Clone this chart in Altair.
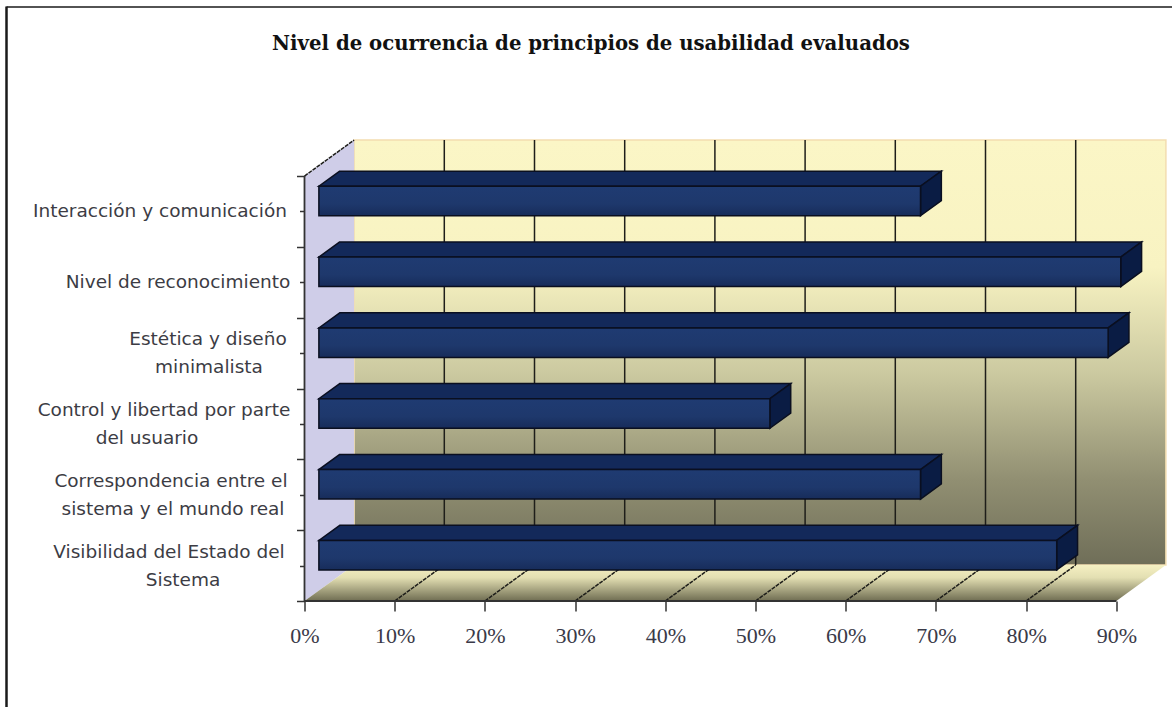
import altair as alt
import pandas as pd

# Categories from the top of the chart to the bottom, with share of occurrence in percent
categories = [
    "Interacción y comunicación",
    "Nivel de reconocimiento",
    "Estética y diseño minimalista",
    "Control y libertad por parte del usuario",
    "Correspondencia entre el sistema y el mundo real",
    "Visibilidad del Estado del Sistema",
]
values = [66.7, 88.9, 87.5, 50.0, 66.7, 81.8]
pct_ticks = [0, 10, 20, 30, 40, 50, 60, 70, 80, 90]

label_lines = [
    ["Interacción y comunicación"],
    ["Nivel de reconocimiento"],
    ["Estética y diseño", "minimalista"],
    ["Control y libertad por parte", "del usuario"],
    ["Correspondencia entre el", "sistema y el mundo real"],
    ["Visibilidad del Estado del", "Sistema"],
]
label_centres = [[160], [178], [208, 209], [164, 147], [171, 173], [169, 183]]

TITLE = "Nivel de ocurrencia de principios de usabilidad evaluados"

# Layout of the oblique projection
LEFT, TOP, PLOT_W, PLOT_H = 304.5, 139, 864, 462
PX_PER_PCT = 9.02
PX_PER_SLOT = 70.83
DEPTH_X = 49.6 / PX_PER_PCT
DEPTH_Y = 36.0 / PX_PER_SLOT
N = len(categories)
BAR_START, BAR_END = 0.29, 0.71
BAR_H = 29.5 / PX_PER_SLOT

xs = alt.Scale(domain=[0, PLOT_W / PX_PER_PCT], range=[0, PLOT_W], nice=False, zero=False)
ys = alt.Scale(domain=[0, PLOT_H / PX_PER_SLOT], range=[PLOT_H, 0], nice=False, zero=False)

# Axis frame: tick marks and percentage labels
x_axis = alt.Axis(
    values=pct_ticks, labelExpr="datum.value + '%'", domain=False, grid=False,
    tickColor="#333333", tickWidth=1.5, tickSize=10, labelPadding=14,
    labelFont="Liberation Serif", labelFontSize=22, labelColor="#3A3A48",
    labelOverlap=False, labelFlush=False,
)
y_axis = alt.Axis(
    values=[i / 2 for i in range(2 * N + 1)], labels=False, domain=False, grid=False,
    tickColor="#333333", tickWidth=1.5,
    tickSize=alt.expr("datum.value % 1 === 0 ? 8 : 5"),
)


def X(f):
    return alt.X(f, type="quantitative", scale=xs, axis=x_axis, title=None)


def Y(f):
    return alt.Y(f, type="quantitative", scale=ys, axis=y_axis, title=None)


def gradient(stops):
    return alt.Gradient(
        gradient="linear", x1=0, y1=0, x2=0, y2=1,
        stops=[alt.GradientStop(offset=o, color=c) for o, c in stops],
    )


top_rows, side_rows, front_rows = [], [], []
for i, (name, v) in enumerate(zip(categories, values)):
    slot = N - 1 - i
    yc = slot + 0.5 + BAR_START * DEPTH_Y
    yb, yt = yc - BAR_H / 2, yc + BAR_H / 2
    xl = BAR_START * DEPTH_X
    xr = xl + v
    d = (BAR_END - BAR_START) * DEPTH_X
    dy = (BAR_END - BAR_START) * DEPTH_Y
    front_rows.append(dict(name=name, x=xl, x2=xr, y=yb, y2=yt))
    top_rows += [
        dict(name=name, x=xl, x2=xr, y=yt),
        dict(name=name, x=xl + d, x2=xr + d, y=yt + dy),
    ]
    side_rows += [
        dict(name=name, x=xr, y=yb, y2=yt),
        dict(name=name, x=xr + d, y=yb + dy, y2=yt + dy),
    ]
front_df, top_df, side_df = map(pd.DataFrame, (front_rows, top_rows, side_rows))

axis_end = pct_ticks[-1]

# Back wall, with its vertical gridlines
wall = alt.Chart(pd.DataFrame([dict(x=DEPTH_X, x2=axis_end + DEPTH_X, y=DEPTH_Y, y2=N + DEPTH_Y)])).mark_rect(
    color=gradient([(0, "#FBF6C6"), (0.3, "#F8F3C2"), (0.55, "#CBC9A0"), (0.8, "#918F72"), (1, "#6F6E58")]),
    stroke="#F3DDB0", strokeWidth=1.5,
).encode(x=X("x"), x2="x2", y=Y("y"), y2="y2")

grid_df = pd.DataFrame({"x": [t + DEPTH_X for t in pct_ticks[1:-1]], "y": DEPTH_Y, "y2": N + DEPTH_Y})
grid = alt.Chart(grid_df).mark_rule(color="#1E1E1A", strokeWidth=1.5).encode(x=X("x"), y=Y("y"), y2="y2")

# Side wall on the left
side_wall = alt.Chart(pd.DataFrame([
    dict(x=0, y=0, y2=N),
    dict(x=DEPTH_X, y=DEPTH_Y, y2=N + DEPTH_Y),
])).mark_area(orient="vertical", color="#CFCDE8").encode(x=X("x"), y=Y("y"), y2="y2")

# Floor
floor = alt.Chart(pd.DataFrame([
    dict(x=0, x2=axis_end, y=0),
    dict(x=DEPTH_X, x2=axis_end + DEPTH_X, y=DEPTH_Y),
])).mark_area(
    orient="horizontal",
    color=gradient([(0, "#F5F0C2"), (0.35, "#E3DFB2"), (1, "#6F6D52")]),
).encode(x=X("x"), x2="x2", y=Y("y"))

# Diagonal lines on the floor and at the top of the side wall
diag_rows = []
for t in pct_ticks[1:-1]:
    diag_rows += [dict(k=t, x=t, y=0), dict(k=t, x=t + DEPTH_X, y=DEPTH_Y)]
diag_rows += [dict(k=-1, x=0, y=N), dict(k=-1, x=DEPTH_X, y=N + DEPTH_Y)]
diagonals = alt.Chart(pd.DataFrame(diag_rows)).mark_line(
    color="#1E1E1A", strokeWidth=1.5, strokeDash=[4, 1]
).encode(x=X("x"), y=Y("y"), detail="k:N")

axis_x_line = alt.Chart(pd.DataFrame([dict(x=0, x2=axis_end, y=0)])).mark_rule(
    color="#333333", strokeWidth=1.8
).encode(x=X("x"), x2="x2", y=Y("y"))
axis_y_line = alt.Chart(pd.DataFrame([dict(x=0, y=0, y2=N)])).mark_rule(
    color="#333333", strokeWidth=1.8
).encode(x=X("x"), y=Y("y"), y2="y2")

# The bars: top, side and front faces
bar_top = alt.Chart(top_df).mark_area(
    orient="horizontal", color="#13295A", stroke="#0A0F20", strokeWidth=1.5
).encode(x=X("x"), x2="x2", y=Y("y"), detail="name:N")
bar_side = alt.Chart(side_df).mark_area(
    orient="vertical", color="#0A1C44", stroke="#0A0F20", strokeWidth=1.5
).encode(x=X("x"), y=Y("y"), y2="y2", detail="name:N")
bar_front = alt.Chart(front_df).mark_rect(
    color=gradient([(0, "#1F3B72"), (0.6, "#1E386C"), (1, "#172C5A")]),
    stroke="#0A0F20", strokeWidth=1.5,
).encode(x=X("x"), x2="x2", y=Y("y"), y2="y2")

# Category labels, one text mark per line
label_rows = []
for i, (lines, centres) in enumerate(zip(label_lines, label_centres)):
    slot = N - 1 - i
    spread = 14.0 / PX_PER_SLOT
    offs = [0] if len(lines) == 1 else [spread, -spread]
    for line, c, o in zip(lines, centres, offs):
        label_rows.append(dict(line=line, x=(c - LEFT) / PX_PER_PCT, y=slot + 0.5 + o))
labels = alt.Chart(pd.DataFrame(label_rows)).mark_text(
    font="DejaVu Sans", fontSize=18.5, color="#3C3C44", align="center", baseline="middle"
).encode(x=X("x"), y=Y("y"), text="line:N")

# Chart heading
heading = alt.Chart(pd.DataFrame({"a": [TITLE]})).mark_text(
    font="DejaVu Serif", fontWeight="bold", fontSize=19.7, color="#111111", align="center", baseline="middle"
).encode(x=alt.value(591 - LEFT), y=alt.value(44 - TOP), text="a:N")

# Outer frame of the chart area
frame_left = alt.Chart(pd.DataFrame({"a": [0]})).mark_rule(color="#1A1A1A", strokeWidth=2.5).encode(
    x=alt.value(6.5 - LEFT), y=alt.value(6.5 - TOP), y2=alt.value(707 - TOP)
)
frame_top = alt.Chart(pd.DataFrame({"a": [0]})).mark_rule(color="#1A1A1A", strokeWidth=1.5).encode(
    x=alt.value(6.5 - LEFT), x2=alt.value(1172 - LEFT), y=alt.value(7 - TOP)
)

chart = alt.layer(
    wall, grid, side_wall, floor, diagonals, axis_x_line, axis_y_line,
    bar_top, bar_side, bar_front, labels, heading, frame_left, frame_top,
).properties(
    width=PLOT_W,
    height=PLOT_H,
    autosize=alt.AutoSizeParams(type="none"),
    padding={"left": LEFT, "top": TOP, "right": 1172 - LEFT - PLOT_W, "bottom": 707 - TOP - PLOT_H},
    background="#FFFFFF",
).configure_view(stroke=None)

chart.save("out.html", embed_options={"renderer": "svg", "actions": False})
